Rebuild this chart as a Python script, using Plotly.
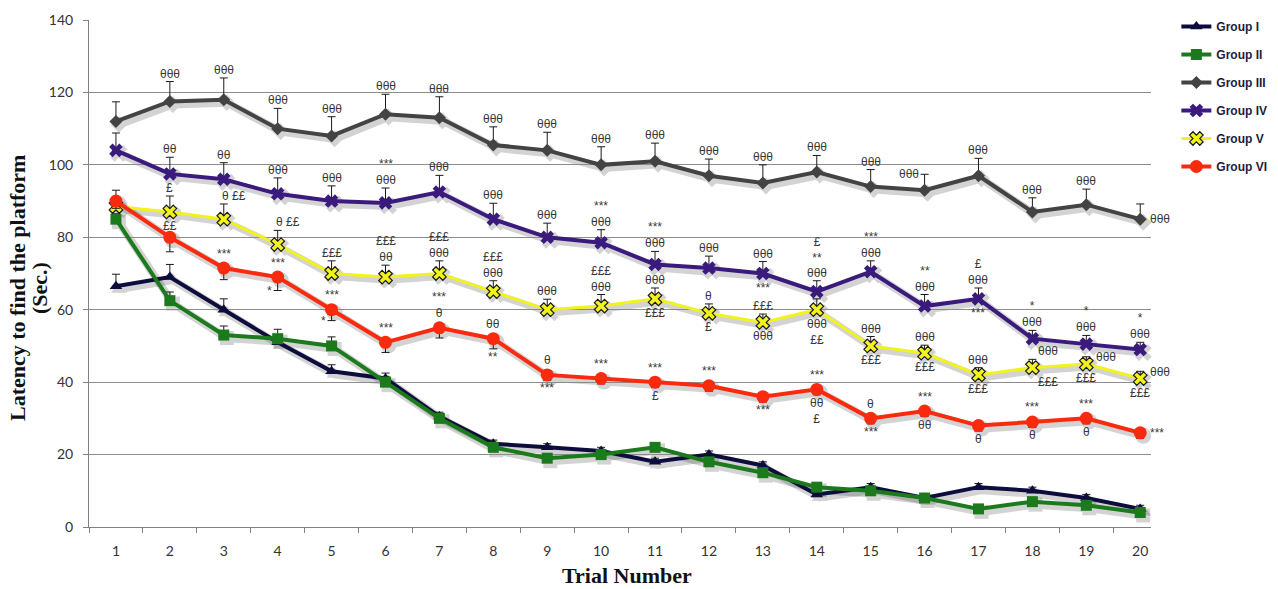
import plotly.graph_objects as go

# ---------------------------------------------------------------------------
# Morris water maze: escape latency per trial (mean ± SEM) for six groups
# ---------------------------------------------------------------------------
trials = list(range(1, 21))

g1 = [66.5, 69, 60, 51, 43, 41, 30.5, 23, 22, 21, 18, 20, 17, 9, 11, 8, 11, 10, 8, 5]
g1_err = [3.3, 3.5, 3, 2, 1.8, 1.5, 1.2, 1, 1, 1, 1, 1, 1, 1, 1, 1, 1, 1, 1, 1]

g2 = [85, 62.5, 53, 52, 50, 40, 30, 22, 19, 20, 22, 18, 15, 11, 10, 8, 5, 7, 6, 4]
g2_err = [1.5, 2.4, 2.5, 2.6, 2.5, 1.5, 1.2, 1, 1, 1, 1, 1, 1, 1, 1, 1, 1, 1, 1, 1]

g3 = [112, 117.5, 118, 110, 108, 114, 113, 105.5, 104, 100, 101, 97, 95, 98, 94, 93, 97, 87, 89, 85]
g3_err = [5.4, 5.5, 6, 5.6, 5.3, 5.5, 5.8, 5, 5, 5, 5, 4.6, 5, 4.6, 4.7, 4.4, 4.8, 3.9, 4.3, 4.2]

g4 = [104, 97.5, 96, 92, 90, 89.5, 92.5, 85, 80, 78.5, 72.5, 71.5, 70, 65, 70.5, 61, 63, 52, 50.5, 49]
g4_err = [4.8, 4.6, 4.6, 4.4, 4.2, 4.1, 4.6, 4.4, 3.9, 3.6, 3.6, 3.3, 3.3, 3, 3, 3.2, 3, 2.3, 2.4, 2]

g5 = [88.5, 87, 85, 78, 70, 69, 70, 65, 60, 61, 63, 59, 56.5, 60, 50, 48, 42, 44, 45, 41]
g5_err = [4.5, 4.4, 4.2, 3.9, 3.5, 3.3, 3.5, 3, 2.9, 3.2, 3, 2.6, 2.3, 3, 2.6, 2.2, 2, 2.3, 2, 2]

g6 = [90, 80, 71.5, 69, 60, 51, 55, 52, 42, 41, 40, 39, 36, 38, 30, 32, 28, 29, 30, 26]
g6_err = [2, 4, 3.2, 3.7, 3, 2.8, 2.8, 2.8, 1.5, 1.5, 1.5, 1.5, 1.5, 1.5, 1.5, 1.5, 1.5, 1.5, 1.5, 1.5]

y_ticks = [0, 20, 40, 60, 80, 100, 120, 140]
y_grid = [20, 40, 60, 80, 100, 120]

# Significance marks: (trial, placement, text[, dx, dy])
g3_marks = [(t, "above", "θθθ") for t in trials[1:15]] + [
    (16, "left", "θθθ"), (17, "above", "θθθ"), (18, "above", "θθθ"),
    (19, "above", "θθθ"), (20, "right", "θθθ")]

g4_marks = [
    (2, "above", "θθ"), (2, "below", "£"), (3, "above", "θθ"), (4, "above", "θθθ"),
    (5, "above", "θθθ"), (6, "above", "***<br>θθθ"), (7, "above", "θθθ"),
    (8, "above", "θθθ"), (9, "above", "θθθ"), (10, "above", "***<br>θθθ"),
    (11, "above", "***<br>θθθ"), (12, "above", "θθθ"), (13, "above", "θθθ"),
    (13, "below", "***"), (14, "above", "£<br>**<br>θθθ"), (15, "above", "***<br>θθθ"),
    (16, "above", "**<br>θθθ"), (17, "above", "£<br>θθθ"), (17, "below", "***"),
    (18, "above", "*<br>θθθ"), (19, "above", "*<br>θθθ"), (20, "above", "*<br>θθθ")]

g5_marks = [
    (2, "below", "££"), (3, "above", "θ ££", 10), (4, "above", "θ ££", 10),
    (5, "above", "£££"), (6, "above", "£££<br>θθ"), (7, "above", "£££<br>θθθ"),
    (8, "above", "£££<br>θθθ"), (9, "above", "θθθ"), (10, "above", "£££<br>θθθ"),
    (11, "above", "θθθ"), (11, "below", "£££"), (12, "above", "θ"), (12, "below", "£"),
    (13, "above", "£££"), (13, "below", "θθθ"), (14, "below", "θθθ<br>££"),
    (15, "above", "θθθ"), (15, "below", "£££"), (16, "above", "θθθ"), (16, "below", "£££"),
    (17, "above", "θθθ"), (17, "below", "£££"), (18, "above", "θθθ", 16),
    (18, "below", "£££", 16), (19, "right", "θθθ", 0, 7), (19, "below", "£££"),
    (20, "right", "θθθ", 0, 7), (20, "below", "£££")]

g6_marks = [
    (3, "above", "***"), (4, "above", "***"), (4, "left", "*"), (5, "above", "***"),
    (5, "left", "*"), (6, "above", "***"), (7, "above", "***<br>θ"), (8, "above", "θθ"),
    (8, "below", "**"), (9, "above", "θ"), (9, "below", "***"), (10, "above", "***"),
    (11, "above", "***"), (11, "below", "£"), (12, "above", "***"), (13, "below", "***"),
    (14, "above", "***"), (14, "below", "θθ<br>£"), (15, "above", "θ"), (15, "below", "***"),
    (16, "above", "***"), (16, "below", "θθ"), (17, "below", "θ"), (18, "above", "***"),
    (18, "below", "θ"), (19, "above", "***"), (19, "below", "θ"), (20, "right", "***")]

# name, values, sem, error direction, line colour, marker, marker size, line width, marks
groups = [
    ("Group I", g1, g1_err, "up", "#0d0d3d", dict(symbol="triangle-up", color="#0d0d3d"), 11, 4, []),
    ("Group II", g2, g2_err, "up", "#1b7a1b", dict(symbol="square", color="#1b7a1b"), 11, 4, []),
    ("Group III", g3, g3_err, "up", "#434343", dict(symbol="diamond", color="#434343"), 10, 4, g3_marks),
    ("Group IV", g4, g4_err, "up", "#3a1a7c", dict(symbol="x", color="#3a1a7c"), 12, 4, g4_marks),
    ("Group V", g5, g5_err, "up", "#f2f21c",
     dict(symbol="x", color="#f2f21c", line=dict(color="#1a1a1a", width=1.2)), 12, 3, g5_marks),
    ("Group VI", g6, g6_err, "down", "#fa2a0e", dict(symbol="circle", color="#fa2a0e"), 13, 4, g6_marks),
]

fig = go.Figure()

# soft drop shadow drawn on a slightly offset copy of the axes
for name, vals, err, direction, col, mk, msize, lw, _ in groups:
    fig.add_trace(go.Scatter(
        x=trials, y=vals, mode="lines+markers", xaxis="x", yaxis="y",
        line=dict(color="#000000", width=lw + 4),
        marker=dict(symbol=mk["symbol"], size=msize + 3, color="#000000"),
        opacity=0.17, showlegend=False, hoverinfo="skip"))

zeros = [0] * len(trials)
for name, vals, err, direction, col, mk, msize, lw, _ in groups:
    err_y = dict(type="data", symmetric=False,
                 array=err if direction == "up" else zeros,
                 arrayminus=zeros if direction == "up" else err,
                 color="#1a1a1a", thickness=1, width=4)
    fig.add_trace(go.Scatter(
        x=trials, y=vals, name=name, mode="lines+markers", xaxis="x2", yaxis="y2",
        line=dict(color=col, width=lw),
        marker=dict(size=msize, **mk),
        error_y=err_y, legendgroup=name))

# significance annotations anchored to the points / error bar ends
annotations = []
for name, vals, err, direction, col, mk, msize, lw, marks in groups:
    r = msize / 2
    for m in marks:
        t, where, text = m[0], m[1], m[2]
        dx = m[3] if len(m) > 3 else 0
        dy = m[4] if len(m) > 4 else 0
        i = t - 1
        plus = err[i] if direction == "up" else 0
        minus = err[i] if direction == "down" else 0
        a = dict(x=t, text=text, xref="x2", yref="y2", showarrow=False,
                 font=dict(family="Liberation Sans", size=12, color="#383838"))
        if where == "above":
            a.update(y=vals[i] + plus, yanchor="bottom", xanchor="center",
                     yshift=(0 if plus else r) + dy - 1, xshift=dx)
        elif where == "below":
            a.update(y=vals[i] - minus, yanchor="top", xanchor="center",
                     yshift=-(0 if minus else r) + dy + 1, xshift=dx)
        elif where == "right":
            a.update(y=vals[i], yanchor="middle", xanchor="left",
                     xshift=8 + dx, yshift=dy)
        else:  # left of the error bar end
            yy = vals[i] + plus if plus else vals[i] - minus
            a.update(y=yy, yanchor="middle", xanchor="right",
                     xshift=-4 + dx, yshift=dy)
        annotations.append(a)

W, H = 1278, 589
ML, MR, MT, MB = 89, 124, 20, 59
pw, ph = W - ML - MR, H - MT - MB
sx, sy = 3 / pw, 3 / ph

# axis titles
title_font = dict(family="Liberation Serif", size=22, color="#111111")
annotations += [
    dict(text="<b>Latency to find the platform</b>", textangle=-90,
         xref="paper", yref="paper", x=(17 - ML) / pw, y=(H - MB - 288) / ph,
         xanchor="center", yanchor="middle", showarrow=False, font=title_font),
    dict(text="<b>(Sec.)</b>", textangle=-90,
         xref="paper", yref="paper", x=(39 - ML) / pw, y=(H - MB - 288) / ph,
         xanchor="center", yanchor="middle", showarrow=False, font=title_font),
    dict(text="<b>Trial Number</b>",
         xref="paper", yref="paper", x=(627 - ML) / pw, y=(H - MB - 575) / ph,
         xanchor="center", yanchor="middle", showarrow=False, font=title_font),
]

axis_font = dict(family="Lato", size=14, color="#333333")

fig.update_layout(
    width=W, height=H,
    margin=dict(l=ML, r=MR, t=MT, b=MB, autoexpand=False),
    paper_bgcolor="white", plot_bgcolor="rgba(0,0,0,0)",
    showlegend=True,
    legend=dict(x=1.021, y=1 + 8 / ph, xanchor="left", yanchor="top",
                font=dict(family="Liberation Sans", size=12, color="#1c1c3c", weight="bold"),
                tracegroupgap=9, itemwidth=30, bgcolor="rgba(0,0,0,0)"),
    annotations=annotations,
    xaxis=dict(domain=[sx, 1], anchor="y", range=[0.5, 20.2], visible=False),
    yaxis=dict(domain=[0, 1 - sy], anchor="x", range=[0, 140], visible=False),
    xaxis2=dict(
        domain=[0, 1 - sx], anchor="y2", range=[0.5, 20.2], automargin=False,
        tickmode="array", tickvals=trials, ticktext=[str(t) for t in trials],
        ticks="", showgrid=False, zeroline=False,
        showline=True, linecolor="#808080", linewidth=1,
        tickfont=axis_font, ticklabelstandoff=11,
        minor=dict(tickmode="array", tickvals=[t - 0.5 for t in trials],
                   ticks="outside", ticklen=5, tickcolor="#808080", showgrid=False),
    ),
    yaxis2=dict(
        domain=[sy, 1], anchor="x2", range=[0, 140], automargin=False,
        tickmode="array", tickvals=y_ticks,
        ticks="outside", ticklen=5, tickcolor="#808080",
        showgrid=False, zeroline=False,
        showline=True, linecolor="#808080", linewidth=1,
        tickfont=axis_font, ticklabelstandoff=7,
        minor=dict(tickmode="array", tickvals=y_grid, ticks="",
                   showgrid=True, gridcolor="#8c8c8c", gridwidth=1),
    ),
)

fig.write_html("out.html")
